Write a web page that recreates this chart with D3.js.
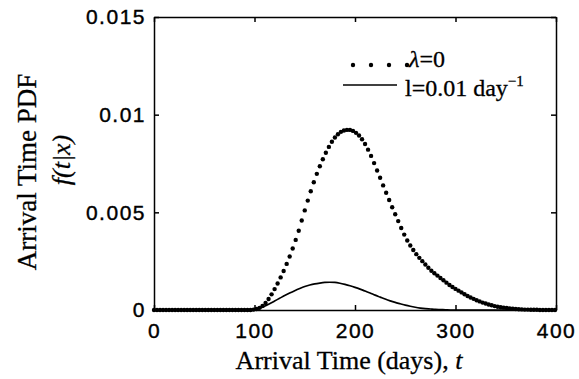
<!DOCTYPE html>
<html>
<head>
<meta charset="utf-8">
<script src="https://cdn.jsdelivr.net/npm/d3@7/dist/d3.min.js"></script>
<style>
  body { margin: 0; background: #fff; }
</style>
</head>
<body>
<div class="chartHolder"></div>
<script>
// data
let dotDays = [
  0, 3, 6, 9, 12, 15, 18, 21, 24, 27, 30, 33, 36, 39, 42, 45, 48, 51, 54, 57,
  60, 63, 66, 69, 72, 75, 78, 81, 84, 87, 90, 93, 96, 99, 102, 105, 108, 111, 114, 117,
  120, 123, 126, 129, 132, 135, 138, 141, 144, 147, 150, 153, 156, 159, 162, 165, 168, 171, 174, 177,
  180, 183, 186, 189, 192, 195, 198, 201, 204, 207, 210, 213, 216, 219, 222, 225, 228, 231, 234, 237,
  240, 243, 246, 249, 252, 255, 258, 261, 264, 267, 270, 273, 276, 279, 282, 285, 288, 291, 294, 297,
  300, 303, 306, 309, 312, 315, 318, 321, 324, 327, 330, 333, 336, 339, 342, 345, 348, 351, 354, 357,
  360, 363, 366, 369, 372, 375, 378, 381, 384, 387, 390, 393, 396, 399
];
// lambda = 0 (dotted)
let pdfNoDecay = [
  0, 0, 0, 0, 0, 0, 0, 0, 0, 0, 0, 0, 0, 0, 0, 0, 0, 0, 0, 0,
  0, 0, 0, 0, 0, 0, 0, 0, 0, 0, 0, 0, 0, 0.00002, 0.00005, 0.00011, 0.00021, 0.00036, 0.00056, 0.00080,
  0.00107, 0.00136, 0.00167, 0.00200, 0.00236, 0.00274, 0.00315, 0.00359, 0.00406, 0.00458, 0.00510, 0.00560, 0.00608, 0.00654, 0.00697, 0.00736, 0.00772, 0.00805, 0.00835, 0.00861,
  0.00883, 0.00900, 0.00912, 0.00919, 0.00922, 0.00922, 0.00917, 0.00907, 0.00893, 0.00874, 0.00850, 0.00821, 0.00789, 0.00752, 0.00714, 0.00677, 0.00638, 0.00600, 0.00563, 0.00526,
  0.00490, 0.00455, 0.00420, 0.00386, 0.00356, 0.00330, 0.00307, 0.00286, 0.00267, 0.00250, 0.00233, 0.00216, 0.00201, 0.00188, 0.00176, 0.00164, 0.00152, 0.00140, 0.00128, 0.00118,
  0.00108, 0.00099, 0.00090, 0.00081, 0.00072, 0.00064, 0.00057, 0.00050, 0.00044, 0.00038, 0.00033, 0.00028, 0.00024, 0.00020, 0.00017, 0.00014, 0.00012, 0.00010, 0.00008, 0.00007,
  0.00005, 0.00004, 0.00003, 0.00002, 0.00002, 0.00001, 0.00001, 0.00001, 0, 0, 0, 0, 0, 0
];
let lineDays = [
  0, 5, 10, 15, 20, 25, 30, 35, 40, 45, 50, 55, 60, 65, 70, 75, 80, 85, 90, 95,
  100, 105, 110, 115, 120, 125, 130, 135, 140, 145, 150, 155, 160, 165, 170, 175, 180, 185, 190, 195,
  200, 205, 210, 215, 220, 225, 230, 235, 240, 245, 250, 255, 260, 265, 270, 275, 280, 285, 290, 295,
  300, 305, 310, 315, 320, 325, 330, 335, 340, 345, 350, 355, 360, 365, 370, 375, 380, 385, 390, 395, 400
];
// lambda = 0.01 day^-1 (solid)
let pdfDecay = [
  0, 0, 0, 0, 0, 0, 0, 0, 0, 0, 0, 0, 0, 0, 0, 0, 0, 0, 0, 0,
  0.00002, 0.00008, 0.00019, 0.00032, 0.00046, 0.00060, 0.00074, 0.00087, 0.00099, 0.00110, 0.00120, 0.00128, 0.00134, 0.00138, 0.00141, 0.00142, 0.00141, 0.00137, 0.00131, 0.00124,
  0.00116, 0.00107, 0.00097, 0.00087, 0.00076, 0.00066, 0.00056, 0.00047, 0.00039, 0.00032, 0.00025, 0.00019, 0.00014, 0.00010, 0.00007, 0.00005, 0.00003, 0.00002, 0.00001, 0,
  0, 0, 0, 0, 0, 0, 0, 0, 0, 0, 0, 0, 0, 0, 0, 0, 0, 0, 0, 0, 0
];
let xTicks = [0, 100, 200, 300, 400];
let yTicks = [0, 0.005, 0.01, 0.015];

let width = 579,
  height = 379,
  plotLeft = 154,
  plotRight = 556,
  plotTop = 17,
  plotBottom = 310;

let svg = d3
  .select(".chartHolder")
  .append("svg")
  .attr("width", width)
  .attr("height", height)
  .style("background", "#fff");

let xScale = d3.scaleLinear().domain([0, 400]).range([plotLeft, plotRight]);
let yScale = d3.scaleLinear().domain([0, 0.015]).range([plotBottom, plotTop]);

// axes, ticks pointing inwards
let tickFont = "'Liberation Sans', Arial, sans-serif";

svg
  .append("g")
  .attr("transform", "translate(0," + plotBottom + ")")
  .call(d3.axisBottom(xScale).tickValues(xTicks).tickSizeInner(-5).tickSizeOuter(0).tickPadding(13));
svg
  .append("g")
  .attr("transform", "translate(" + plotLeft + ",0)")
  .call(
    d3.axisLeft(yScale).tickValues(yTicks).tickSizeInner(-5).tickSizeOuter(0).tickPadding(8)
      .tickFormat((d) => String(d))
  );
svg
  .append("g")
  .attr("transform", "translate(0," + plotTop + ")")
  .call(d3.axisTop(xScale).tickValues(xTicks).tickSizeInner(-5).tickSizeOuter(0).tickFormat(""));
svg
  .append("g")
  .attr("transform", "translate(" + plotRight + ",0)")
  .call(d3.axisRight(yScale).tickValues(yTicks).tickSizeInner(-5).tickSizeOuter(0).tickFormat(""));

svg.selectAll(".domain, .tick line").attr("stroke", "#000").attr("stroke-width", 1.5);
svg
  .selectAll(".tick text")
  .attr("fill", "#000")
  .attr("stroke", "#000")
  .attr("stroke-width", 0.4)
  .style("font-family", tickFont)
  .style("font-size", "21px")
  .style("letter-spacing", "1.5px");

// solid curve
let line = d3
  .line()
  .x((d, i) => xScale(lineDays[i]))
  .y((d) => yScale(d))
  .curve(d3.curveMonotoneX);
svg
  .append("path")
  .datum(pdfDecay)
  .attr("d", line)
  .attr("fill", "none")
  .attr("stroke", "#000")
  .attr("stroke-width", 1.7);

// dotted curve
svg
  .append("g")
  .selectAll("circle")
  .data(pdfNoDecay)
  .enter()
  .append("circle")
  .attr("cx", (d, i) => xScale(dotDays[i]))
  .attr("cy", (d) => yScale(d))
  .attr("r", 2.2)
  .attr("fill", "#000");

// axis titles
let serif = "'Liberation Serif', 'Times New Roman', serif";
svg
  .append("text")
  .attr("x", 349)
  .attr("y", 369)
  .attr("text-anchor", "middle")
  .attr("stroke", "#000")
  .attr("stroke-width", 0.3)
  .style("font-family", serif)
  .style("font-size", "26px")
  .html("Arrival Time (days), <tspan font-style='italic'>t</tspan>");

svg
  .append("text")
  .attr("transform", "translate(36,172) rotate(-90)")
  .attr("text-anchor", "middle")
  .attr("stroke", "#000")
  .attr("stroke-width", 0.3)
  .style("font-family", serif)
  .style("font-size", "27px")
  .text("Arrival Time PDF");
svg
  .append("text")
  .attr("transform", "translate(70,160) rotate(-90)")
  .attr("text-anchor", "middle")
  .attr("stroke", "#000")
  .attr("stroke-width", 0.3)
  .style("font-family", serif)
  .style("font-size", "26px")
  .style("font-style", "italic")
  .text("f(t|x)");

// legend
let legend = svg.append("g");
[353, 371, 389, 407].forEach((cx) => {
  legend.append("circle").attr("cx", cx).attr("cy", 65).attr("r", 2.2).attr("fill", "#000");
});
legend
  .append("text")
  .attr("x", 409)
  .attr("y", 67)
  .attr("stroke", "#000")
  .attr("stroke-width", 0.3)
  .style("font-family", serif)
  .style("font-size", "24px")
  .html("<tspan font-style='italic'>λ</tspan>=0");
legend
  .append("line")
  .attr("x1", 343)
  .attr("x2", 397)
  .attr("y1", 85)
  .attr("y2", 85)
  .attr("stroke", "#000")
  .attr("stroke-width", 1.7);
legend
  .append("text")
  .attr("x", 405)
  .attr("y", 96)
  .attr("stroke", "#000")
  .attr("stroke-width", 0.3)
  .style("font-family", serif)
  .style("font-size", "24px")
  .html("l=0.01 day<tspan font-size='15px' dy='-10'>−1</tspan>");
</script>
</body>
</html>
